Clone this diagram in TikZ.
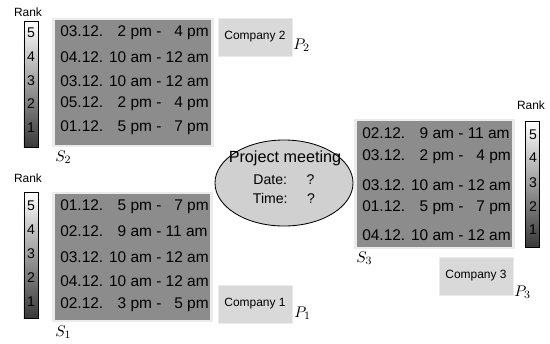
\documentclass[tikz,border=0pt]{standalone}
\usepackage{fontspec}
\setsansfont{Liberation Sans}
\usetikzlibrary{shapes.geometric, positioning}
\definecolor{slotfill}{RGB}{140,140,140}
\definecolor{slotframe}{RGB}{235,235,235}
\definecolor{compfill}{RGB}{217,217,217}
\definecolor{meetfill}{RGB}{208,208,208}
\tikzset{
  slotbox/.style={rectangle, fill=slotfill, draw=slotframe, line width=2pt, inner sep=0pt},
  slottext/.style={anchor=west, inner sep=0pt, font=\sffamily\fontsize{11pt}{13pt}\selectfont},
  compbox/.style={rectangle, fill=compfill, draw=slotframe, line width=0.6pt,
    minimum width=1.85cm, minimum height=0.95cm, font=\sffamily\fontsize{8.5pt}{10pt}\selectfont},
  rankbar/.style={rectangle, draw=black, line width=0.6pt, top color=white, bottom color=black!78,
    minimum width=0.35cm, minimum height=3.15cm, inner sep=0pt},
  ranklabel/.style={font=\sffamily\fontsize{8.5pt}{10pt}\selectfont, inner sep=0pt},
  rankdigit/.style={font=\sffamily\fontsize{10pt}{12pt}\selectfont, inner sep=0pt},
  setlabel/.style={anchor=west, inner sep=0pt, font=\fontsize{11pt}{13pt}\selectfont}
}
\newcommand{\fig}{\phantom{1}}
\begin{document}
\begin{tikzpicture}[x=0.025cm, y=-0.025cm]
  \useasboundingbox (0,0) rectangle (550,343);
  % company 2 (top left)
  \node[ranklabel] (rank2) at (28,12) {Rank};
  \node[rankbar] (bar2) at (31,84.5) {};
  \foreach \r/\y in {5/33, 4/57, 3/81, 2/104, 1/128}
    \node[rankdigit] (bar2-\r) at (31,\y) {\r};
  \node[slotbox, minimum width=3.975cm, minimum height=3.175cm] (s2) at (133,82.5) {};
  \node[slottext] (s2-1) at (60,33) {03.12. \fig2 pm - \fig4 pm};
  \node[slottext] (s2-2) at (60,57) {04.12. 10 am - 12 am};
  \node[slottext] (s2-3) at (60,81) {03.12. 10 am - 12 am};
  \node[slottext] (s2-4) at (60,104) {05.12. \fig2 pm - \fig4 pm};
  \node[slottext] (s2-5) at (60,128) {01.12. \fig5 pm - \fig7 pm};
  \node[setlabel] (s2lab) at (55,157) {$S_2$};
  \node[compbox] (comp2) at (255,37) {Company 2};
  \node[setlabel] (p2lab) at (293,45) {$P_2$};

  % company 1 (bottom left)
  \node[ranklabel] (rank1) at (28,178) {Rank};
  \node[rankbar] (bar1) at (31,255) {};
  \foreach \r/\y in {5/206, 4/230, 3/254, 2/278, 1/302}
    \node[rankdigit] (bar1-\r) at (31,\y) {\r};
  \node[slotbox, minimum width=3.95cm, minimum height=3.2cm] (s1) at (132.5,257) {};
  \node[slottext] (s1-1) at (60,207) {01.12. \fig5 pm - \fig7 pm};
  \node[slottext] (s1-2) at (60,231) {02.12. \fig9 am - 11 am};
  \node[slottext] (s1-3) at (60,257) {03.12. 10 am - 12 am};
  \node[slottext] (s1-4) at (60,281) {04.12. 10 am - 12 am};
  \node[slottext] (s1-5) at (60,305) {02.12. \fig3 pm - \fig5 pm};
  \node[setlabel] (s1lab) at (55,332) {$S_1$};
  \node[compbox] (comp1) at (255,304) {Company 1};
  \node[setlabel] (p1lab) at (294,313) {$P_1$};

  % meeting
  \node[ellipse, draw=black, line width=0.6pt, fill=meetfill, minimum width=3.45cm,
        minimum height=2.15cm, inner sep=0pt] (meet) at (284,183) {};
  \node[font=\sffamily\fontsize{11.5pt}{13pt}\selectfont, inner sep=0pt] (meettitle) at (285,158) {Project meeting};
  \node[font=\sffamily\fontsize{10pt}{12pt}\selectfont, inner sep=0pt] (meetdate) at (284,180) {Date:\hspace{1.4em}?};
  \node[font=\sffamily\fontsize{10pt}{12pt}\selectfont, inner sep=0pt] (meettime) at (284,198) {Time:\hspace{1.4em}?};

  % company 3 (right)
  \node[slotbox, minimum width=3.95cm, minimum height=3.2cm] (s3) at (434.5,184) {};
  \node[slottext] (s3-1) at (362,133) {02.12. \fig9 am - 11 am};
  \node[slottext] (s3-2) at (362,157) {03.12. \fig2 pm - \fig4 pm};
  \node[slottext] (s3-3) at (362,185) {03.12. 10 am - 12 am};
  \node[slottext] (s3-4) at (362,208) {01.12. \fig5 pm - \fig7 pm};
  \node[slottext] (s3-5) at (362,235) {04.12. 10 am - 12 am};
  \node[setlabel] (s3lab) at (356,258) {$S_3$};
  \node[ranklabel] (rank3) at (531,105) {Rank};
  \node[rankbar] (bar3) at (532.5,184) {};
  \foreach \r/\y in {5/135, 4/158, 3/183, 2/207, 1/230}
    \node[rankdigit] (bar3-\r) at (533,\y) {\r};
  \node[compbox] (comp3) at (476,276) {Company 3};
  \node[setlabel] (p3lab) at (514,292) {$P_3$};
\end{tikzpicture}
\end{document}
